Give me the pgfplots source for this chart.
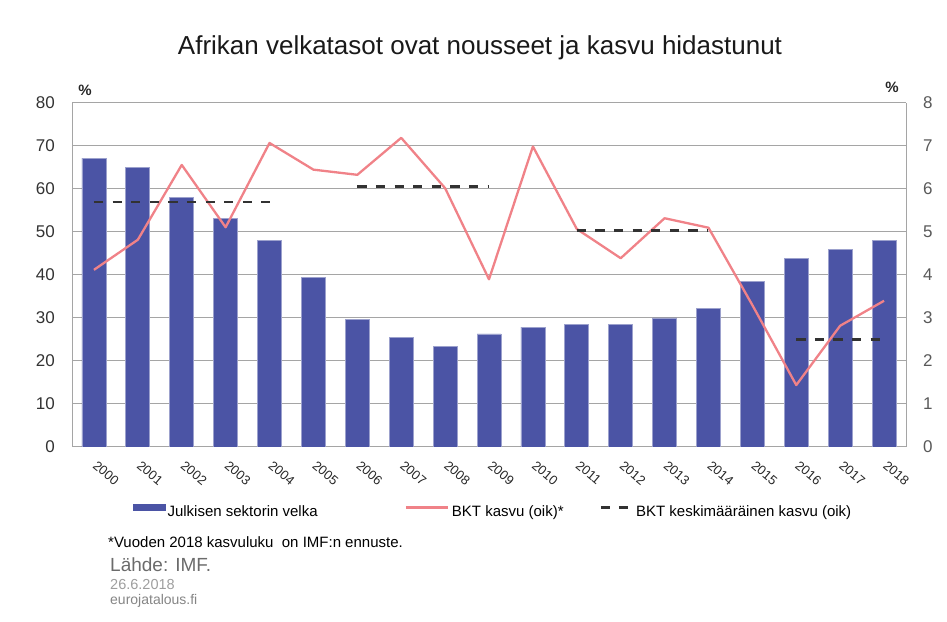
\documentclass[border=0pt]{standalone}
\usepackage{pgfplots}
\pgfplotsset{compat=1.18}
\usepackage{fontspec}
\setmainfont{Liberation Sans}
\definecolor{barblue}{RGB}{75,84,165}
\definecolor{gdppink}{RGB}{240,130,136}
\definecolor{gridgray}{RGB}{165,165,165}
\definecolor{dashgray}{RGB}{50,50,50}

\pgfplotstableread{
x debt
0 67.2
1 65.1
2 58.0
3 53.2
4 48.0
5 39.5
6 29.6
7 25.5
8 23.4
9 26.3
10 27.9
11 28.5
12 28.5
13 30.0
14 32.3
15 38.6
16 43.8
17 45.9
18 48.0
}\debttable

\pgfplotstableread{
x gdp
0 4.12
1 4.82
2 6.56
3 5.11
4 7.07
5 6.45
6 6.33
7 7.19
8 6.02
9 3.90
10 6.99
11 5.07
12 4.39
13 5.32
14 5.10
15 3.30
16 1.44
17 2.82
18 3.40
}\gdptable

\begin{document}
\begin{tikzpicture}[x=1pt,y=1pt]
\useasboundingbox (0,0) rectangle (947,621);
\pgfplotsset{
  base/.style={
    scale only axis, width=834pt, height=344pt,
    at={(72pt,174pt)}, anchor=south west,
    xmin=-0.5, xmax=18.5, ymin=0,
    /pgf/number format/assume math mode=true,
    tick style={draw=none},
    axis line style={gridgray, line width=1pt},
  }
}
\begin{axis}[base,
  ymax=80, ytick={0,10,...,80},
  axis y line*=left, axis x line*=bottom,
  ymajorgrids, grid style={gridgray, line width=1pt},
  xtick={0,...,18},
  xticklabels={2000,2001,2002,2003,2004,2005,2006,2007,2008,2009,2010,2011,2012,2013,2014,2015,2016,2017,2018},
  xticklabel style={xshift=4pt, yshift=-13pt, rotate=-40, anchor=north west, inner sep=0pt,
    font=\fontsize{13}{15}\selectfont, color=black!85},
  yticklabel style={anchor=east, inner sep=0pt, xshift=-17pt,
    font=\fontsize{17}{20}\selectfont, color=black!80},
]
\addplot[ybar, bar width=24pt, fill=barblue, draw=barblue!55!white, line width=0.7pt]
  table[x=x, y=debt] {\debttable};
\end{axis}

\begin{axis}[base,
  ymax=8, ytick={0,...,8},
  axis y line*=right, axis x line=none,
  yticklabel style={anchor=west, inner sep=0pt, xshift=17pt,
    font=\fontsize{17}{20}\selectfont, color=black!65},
  legend columns=3,
  legend style={at={(0.0731,-0.186)}, anchor=west, draw=none, fill=none,
    inner sep=0pt, font=\fontsize{15}{18}\selectfont,
    nodes={inner sep=0pt}, column sep=0pt},
  legend cell align=left,
]
\addlegendimage{legend image code/.code={\fill[barblue] (0pt,1pt) rectangle (32pt,7pt);}}
\addlegendentry{\makebox[2pt]{}Julkisen sektorin velka\makebox[87pt]{}}
\addplot[gdppink, line width=2.3pt, line join=round,
  legend image code/.code={\draw[gdppink, line width=2.3pt] (0pt,4pt) -- (42pt,4pt);}]
  table[x=x, y=gdp] {\gdptable};
\addlegendentry{\makebox[3pt]{}BKT kasvu (oik)*\makebox[36pt]{}}
\addplot[dashgray, line width=2.5pt, dash pattern=on 9.3pt off 9.3pt,
  legend image code/.code={\draw[dashgray, line width=2.5pt, dash pattern=on 9pt off 9pt] (0pt,4pt) -- (27pt,4pt);}]
  coordinates {(0,5.70) (4,5.70)};
\addlegendentry{\makebox[7pt]{}BKT keskimääräinen kasvu (oik)}
\addplot[dashgray, line width=2.5pt, dash pattern=on 9.3pt off 9.3pt, forget plot]
  coordinates {(6,6.06) (9,6.06)};
\addplot[dashgray, line width=2.5pt, dash pattern=on 9.3pt off 9.3pt, forget plot]
  coordinates {(11,5.03) (14,5.03)};
\addplot[dashgray, line width=2.5pt, dash pattern=on 9.3pt off 9.3pt, forget plot]
  coordinates {(16,2.50) (18,2.50)};
\end{axis}

\node[anchor=base, font=\fontsize{26}{31}\selectfont, color=black!90] at (480,566)
  {Afrikan velkatasot ovat nousseet ja kasvu hidastunut};
\node[anchor=base, font=\bfseries\fontsize{15}{18}\selectfont, color=black!85] at (85,525.3) {\%};
\node[anchor=base, font=\bfseries\fontsize{15}{18}\selectfont, color=black!85] at (892,528.3) {\%};

\node[anchor=base west, inner sep=0pt, font=\fontsize{15}{18}\selectfont] at (108,74)
  {*Vuoden 2018 kasvuluku\ \ on IMF:n ennuste.};
\node[anchor=base west, inner sep=0pt, font=\fontsize{19}{22}\selectfont, color=black!58] at (110,50)
  {Lähde: IMF.};
\node[anchor=base west, inner sep=0pt, font=\fontsize{14.5}{17}\selectfont, color=black!38] at (110,32)
  {26.6.2018};
\node[anchor=base west, inner sep=0pt, font=\fontsize{14}{17}\selectfont, color=black!48] at (110,17)
  {eurojatalous.fi};
\end{tikzpicture}
\end{document}
